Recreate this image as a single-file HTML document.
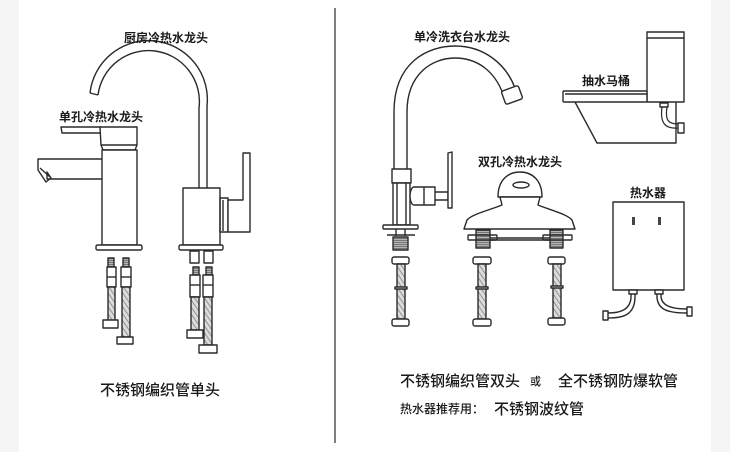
<!DOCTYPE html>
<html><head><meta charset="utf-8"><style>
html,body{margin:0;padding:0;background:#fff;}
svg{display:block;}
text{font-family:"Liberation Sans","Noto Sans CJK SC",sans-serif;fill:#1a1a1a;}
</style></head><body>
<svg width="730" height="452" viewBox="0 0 730 452" xmlns="http://www.w3.org/2000/svg">
<defs>
<pattern id="h" width="4" height="4" patternUnits="userSpaceOnUse" patternTransform="rotate(-35)">
<rect width="4" height="4" fill="#dcdcdc"/><line x1="0" y1="0" x2="0" y2="4" stroke="#8a8a8a" stroke-width="1.8"/></pattern>
<pattern id="t" width="3" height="2" patternUnits="userSpaceOnUse">
<rect width="3" height="2" fill="#b5b5b5"/><line x1="0" y1="0.5" x2="3" y2="0.5" stroke="#666" stroke-width="0.8"/></pattern>
</defs>
<rect x="0" y="0" width="730" height="452" fill="#fff"/>
<rect x="0" y="0" width="19" height="452" fill="#f5f5f5"/>
<rect x="711" y="0" width="19" height="452" fill="#f5f5f5"/>
<line x1="335" y1="8" x2="335" y2="443" stroke="#555" stroke-width="1.5"/>

<g fill="none" stroke="#2a2a2a" stroke-width="1.4" stroke-linejoin="round">
<!-- kitchen faucet -->
<path d="M90 93 A58 58 0 0 1 207 106 L207 188"/>
<path d="M98 95 A50 50 0 0 1 199 108 L199 188"/>
<path d="M90 93 L98 95"/>
<rect x="183" y="188" width="37" height="57" fill="#fff"/>
<rect x="179" y="245" width="44" height="5" rx="1.5" fill="#fff"/>
<rect x="220" y="198" width="8" height="34"/>
<line x1="223" y1="200" x2="223" y2="231"/>
<path d="M228 200 H243 V153 H250 V232 H228 Z" fill="#fff"/>

<!-- single-hole faucet -->
<path d="M61 127 H101 L103 133 H62 Z" fill="#fff"/>
<path d="M100 127 H137 V145 H101 Z" fill="#fff"/>
<path d="M101 145 L103 150 H135 L137 145"/>
<rect x="102" y="150" width="35" height="95" fill="#fff"/>
<rect x="96" y="245" width="46" height="5" rx="1.5" fill="#fff"/>
<path d="M102 159 H38 V170 L46 182 L51 178 L47 172 V179 H102"/>
<line x1="40" y1="168" x2="50" y2="177"/>

<!-- left pipes -->
<rect x="108" y="258" width="6" height="9" fill="url(#t)"/>
<rect x="107" y="267" width="9" height="20" fill="#fff"/>
<line x1="107" y1="277" x2="116" y2="277"/>
<rect x="108" y="287" width="7" height="34" fill="url(#h)"/>
<rect x="103" y="320" width="15" height="8" fill="#fff"/>
<rect x="123" y="258" width="6" height="9" fill="url(#t)"/>
<rect x="121" y="267" width="10" height="20" fill="#fff"/>
<line x1="121" y1="277" x2="131" y2="277"/>
<rect x="122" y="287" width="8" height="50" fill="url(#h)"/>
<rect x="117" y="337" width="16" height="7" fill="#fff"/>

<rect x="190" y="251" width="9" height="12" fill="#fff"/>
<rect x="204" y="251" width="9" height="12" fill="#fff"/>
<rect x="193" y="267" width="6" height="8" fill="url(#t)"/>
<rect x="190" y="275" width="10" height="22" fill="#fff"/>
<line x1="190" y1="285" x2="200" y2="285"/>
<rect x="191" y="297" width="8" height="33" fill="url(#h)"/>
<rect x="187" y="330" width="16" height="8" fill="#fff"/>
<rect x="206" y="267" width="6" height="8" fill="url(#t)"/>
<rect x="203" y="275" width="10" height="22" fill="#fff"/>
<line x1="203" y1="285" x2="213" y2="285"/>
<rect x="204" y="297" width="8" height="48" fill="url(#h)"/>
<rect x="199" y="345" width="18" height="8" fill="#fff"/>

<!-- wash-basin faucet -->
<path d="M394 170 L394 112 C394 62 428 46 455 46 C484 46 506 64 515 88"/>
<path d="M407 170 L407 112 C407 74 432 58 455 58 C478 58 495 72 503 94"/>
<rect x="503" y="88" width="18" height="14" rx="2" transform="rotate(-20 512 95)" fill="#fff"/>
<rect x="392" y="169" width="19" height="14" fill="#fff"/>
<rect x="393" y="183" width="17" height="42" fill="#fff"/>
<line x1="397" y1="183" x2="397" y2="225"/>
<line x1="406" y1="183" x2="406" y2="225"/>
<rect x="383" y="225" width="35" height="4" rx="1" fill="#fff"/>
<line x1="396" y1="229" x2="396" y2="236"/>
<line x1="405" y1="229" x2="405" y2="236"/>
<line x1="387" y1="235" x2="415" y2="235"/>
<rect x="393" y="237" width="15" height="13" fill="url(#t)"/>
<path d="M414 187 H435 V205 H414 A4 9 0 0 1 414 187 Z" fill="#fff"/>
<line x1="424" y1="187" x2="424" y2="205"/>
<path d="M435 192 H448 V200 H435"/>
<path d="M448 153 L452 152 L452 208 L448 208 Z" fill="#fff"/>

<!-- two-hole faucet -->
<path d="M498 197 C498 180 508 172 520 172 C532 172 542 180 542 197 Z" fill="#fff"/>
<ellipse cx="521" cy="185" rx="8" ry="3"/>
<path d="M500 197 L502 205 C490 210 472 214 467 220 L464 229 H575 L572 220 C567 214 550 210 538 205 L540 197 Z" fill="#fff"/>
<rect x="476" y="230" width="14" height="18" fill="url(#t)"/>
<rect x="550" y="230" width="13" height="18" fill="url(#t)"/>
<line x1="490" y1="238" x2="550" y2="238"/>
<line x1="490" y1="240" x2="550" y2="240"/>
<rect x="468" y="235" width="29" height="5" rx="1" fill="none"/>
<rect x="543" y="235" width="29" height="5" rx="1" fill="none"/>

<!-- right pipes -->
<rect x="392" y="257" width="17" height="7" rx="2" fill="#fff"/>
<rect x="397" y="264" width="8" height="55" fill="url(#h)"/>
<rect x="395" y="287" width="12" height="2" fill="#fff"/>
<rect x="392" y="319" width="17" height="7" rx="2" fill="#fff"/>
<rect x="473" y="257" width="18" height="7" rx="2" fill="#fff"/>
<rect x="478" y="264" width="8" height="55" fill="url(#h)"/>
<rect x="476" y="287" width="12" height="2" fill="#fff"/>
<rect x="473" y="319" width="18" height="7" rx="2" fill="#fff"/>
<rect x="548" y="257" width="17" height="7" rx="2" fill="#fff"/>
<rect x="553" y="264" width="8" height="54" fill="url(#h)"/>
<rect x="551" y="286" width="12" height="2" fill="#fff"/>
<rect x="548" y="318" width="17" height="7" rx="2" fill="#fff"/>

<!-- toilet -->
<rect x="647" y="32" width="37" height="70" fill="#fff"/>
<line x1="647" y1="38" x2="684" y2="38"/>
<rect x="563" y="91" width="84" height="11" rx="1" fill="#fff"/>
<line x1="565" y1="94" x2="647" y2="94"/>
<path d="M575 102 L597 143 H676 V102"/>
<rect x="660" y="103" width="8" height="4" fill="#fff"/>
<path d="M662 107 C660 122 664 129 678 128" stroke-width="1.2"/>
<path d="M667 107 C665 120 668 124 678 124" stroke-width="1.2"/>
<rect x="678" y="123" width="6" height="10" fill="#fff"/>

<!-- water heater -->
<rect x="613" y="202" width="71" height="88" fill="#fff"/>
<rect x="632" y="217" width="3" height="8" fill="#444" stroke="none"/>
<rect x="658" y="217" width="3" height="8" fill="#444" stroke="none"/>
<rect x="629" y="290" width="8" height="4" fill="#fff"/>
<rect x="655" y="290" width="8" height="4" fill="#fff"/>
<path d="M631 294 C632 310 620 313 608 313"/>
<path d="M635 294 C636 316 622 318 608 318"/>
<path d="M657 294 C656 310 668 313 687 313"/>
<path d="M661 294 C660 306 672 309 687 309"/>
<rect x="603" y="311" width="5" height="9" fill="#fff"/>
<rect x="687" y="307" width="5" height="9" fill="#fff"/>
</g>

<!-- labels -->
<g font-size="12" font-weight="bold" text-anchor="middle">
<text x="166" y="42">厨房冷热水龙头</text>
<text x="101" y="121">单孔冷热水龙头</text>
<text x="462" y="41">单冷洗衣台水龙头</text>
<text x="520" y="166">双孔冷热水龙头</text>
<text x="606" y="85">抽水马桶</text>
<text x="648" y="197">热水器</text>
</g>
<g font-size="15" font-weight="500">
<text x="100" y="395">不锈钢编织管单头</text>
<text x="400" y="386">不锈钢编织管双头</text>
<text x="530" y="385" font-size="11">或</text>
<text x="558" y="386">全不锈钢防爆软管</text>
<text x="400" y="413" font-size="12">热水器推荐用：</text>
<text x="494" y="414">不锈钢波纹管</text>
</g>
</svg>
</body></html>
